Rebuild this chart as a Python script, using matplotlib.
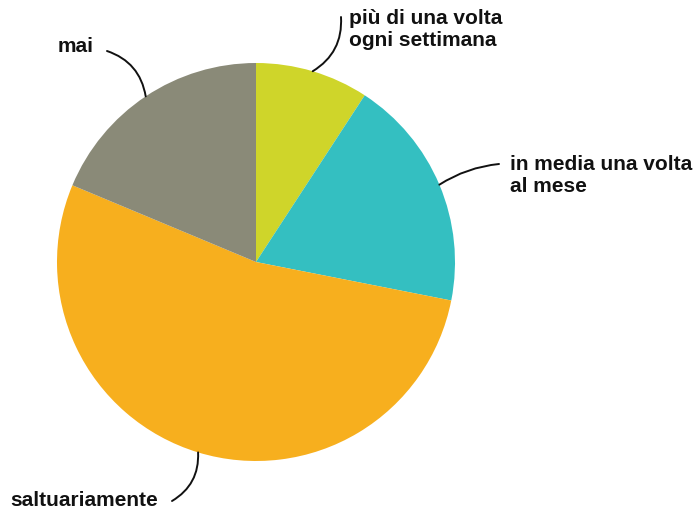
import numpy as np
import matplotlib
matplotlib.use("Agg")
import matplotlib.pyplot as plt

labels = ["più di una volta\nogni settimana", "in media una volta\nal mese", "saltuariamente", "mai"]
values = [9.2, 18.9, 53.2, 18.7]
colors = ["#cfd52a", "#34bfc1", "#f7af1e", "#8a8a78"]

W, H = 698, 515
fig = plt.figure(figsize=(W / 100, H / 100), dpi=100)
cx, cy, R = 256, 262, 199
ax = fig.add_axes([(cx - R) / W, (H - cy - R) / H, 2 * R / W, 2 * R / H])
wedges, _ = ax.pie(values, colors=colors, startangle=90, counterclock=False,
                   radius=1, wedgeprops=dict(linewidth=0))
ax.set_xlim(-1, 1)
ax.set_ylim(-1, 1)
ax.set_aspect("equal")
ax.axis("off")

def px(x, y):
    return ((x - cx) / R, (cy - y) / R)

# (line end, text anchor, ha, rad)
specs = [
    (px(341, 17), px(349, 30), "left", -0.3),
    (px(499, 164), px(510, 175.5), "left", 0.12),
    (px(172, 501), px(158, 500), "right", 0.3),
    (px(107, 51), px(94, 46), "right", -0.3),
]
font = dict(family="Liberation Sans", weight="bold", fontsize=15.0, color="#111111")
for w, lab, (end, tpos, ha, rad) in zip(wedges, labels, specs):
    ang = np.deg2rad((w.theta1 + w.theta2) / 2)
    start = (np.cos(ang), np.sin(ang))
    ax.annotate("", xy=start, xytext=end, xycoords="data", textcoords="data",
                arrowprops=dict(arrowstyle="-", color="#111111", lw=1.4,
                                connectionstyle=f"arc3,rad={rad}",
                                shrinkA=0, shrinkB=0),
                annotation_clip=False)
    ax.text(tpos[0], tpos[1], lab, ha=ha, va="center", linespacing=1.2,
            clip_on=False, **font)

fig.savefig("out.png", dpi=100)
